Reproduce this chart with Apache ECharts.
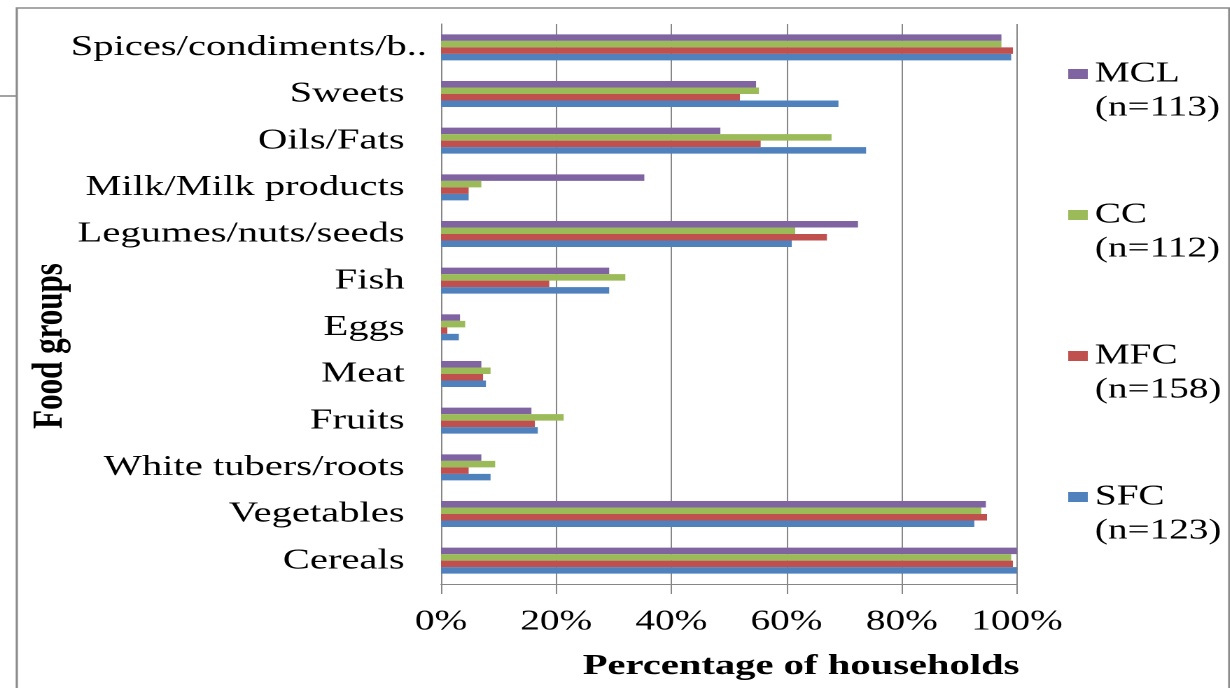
<!DOCTYPE html>
<html>
<head>
<meta charset="utf-8">
<title>Food groups consumed by households</title>
<script src="https://cdn.jsdelivr.net/npm/echarts@6/dist/echarts.min.js"></script>
<style>
  html, body { margin: 0; padding: 0; background: #fff; overflow: hidden; }
  /* The chart is laid out on a narrower canvas and widened horizontally,
     giving the broad serif lettering of the figure. */
  #chart { width: 879px; height: 688px; transform: scaleX(1.4); transform-origin: 0 0; }
</style>
</head>
<body>
<div id="chart"></div>
<script>
// Food groups, listed top to bottom
const categories = [
  'Spices/condiments/b..', 'Sweets', 'Oils/Fats', 'Milk/Milk products',
  'Legumes/nuts/seeds', 'Fish', 'Eggs', 'Meat', 'Fruits',
  'White tubers/roots', 'Vegetables', 'Cereals'
];

// Percentage of households consuming each food group
const mcl = [97.3, 54.7, 48.5, 35.3, 72.4, 29.2, 3.3, 7.0, 15.7, 7.0, 94.6, 100];
const cc  = [97.3, 55.2, 67.8, 7.0, 61.5, 32.0, 4.2, 8.6, 21.3, 9.4, 93.8, 99.0];
const mfc = [99.3, 51.9, 55.5, 4.8, 67.0, 18.8, 1.1, 7.3, 16.3, 4.8, 94.8, 99.3];
const sfc = [99.0, 69.0, 73.8, 4.8, 60.9, 29.2, 3.1, 7.8, 16.8, 8.6, 92.6, 100];

const seriesNames = ['MCL (n=113)', 'CC (n=112)', 'MFC (n=158)', 'SFC (n=123)'];
const seriesColors = ['#8064A2', '#9BBB59', '#C0504D', '#4F81BD'];
const tickValues = [0, 20, 40, 60, 80, 100];
const tickLabels = ['0%', '20%', '40%', '60%', '80%', '100%'];

const font = 'Liberation Serif, Times New Roman, serif';
const grey = '#868686';

const chart = echarts.init(document.getElementById('chart'), null, { devicePixelRatio: 2 });

const values = [mcl, cc, mfc, sfc];

chart.setOption({
  animation: false,
  backgroundColor: '#fff',
  grid: { left: 315, right: 152.6, top: 24, bottom: 104, containLabel: false },
  legend: {
    orient: 'vertical',
    left: 758,
    top: 18,
    itemWidth: 14,
    itemHeight: 10,
    itemGap: 39,
    icon: 'rect',
    data: seriesNames,
    // group name beside the swatch, sample size on the line below
    formatter: function (name) {
      const parts = name.split(' ');
      return '\n' + parts[0] + '\n' + parts[1];
    },
    textStyle: {
      fontFamily: font, fontSize: 28, color: '#000', lineHeight: 34
    }
  },
  xAxis: {
    type: 'value',
    min: 0,
    max: 100,
    interval: 10,
    axisLine: { show: true, lineStyle: { color: grey, width: 1 } },
    axisTick: {
      show: true, length: 10, customValues: tickValues,
      lineStyle: { color: grey, width: 1 }
    },
    splitLine: { show: true, lineStyle: { color: grey, width: 1 } },
    axisLabel: {
      customValues: tickValues,
      formatter: function (v) { return tickLabels[tickValues.indexOf(v)]; },
      fontFamily: font, fontSize: 28, color: '#000', margin: 24
    },
    name: 'Percentage of households',
    nameLocation: 'middle',
    nameGap: 68,
    nameTextStyle: {
      fontFamily: font, fontSize: 29, fontWeight: 'bold', color: '#000',
      padding: [0, 0, 0, 103]
    }
  },
  yAxis: {
    type: 'category',
    inverse: true,
    data: categories,
    axisLine: { show: true, lineStyle: { color: grey, width: 1 } },
    axisTick: { show: false },
    axisLabel: {
      margin: 10,
      formatter: function (v, i) {
        return i === 0 ? '{s|' + v + '}' : '{n|' + v + '}';
      },
      rich: {
        s: { fontFamily: font, fontSize: 29, color: '#000' },
        n: { fontFamily: font, fontSize: 29, color: '#000', padding: [0, 16, 0, 0] }
      }
    }
  },
  series: seriesNames.map(function (name, k) {
    return {
      name: name,
      type: 'bar',
      data: values[k],
      barWidth: 6.5,
      barGap: '0%',
      itemStyle: { color: seriesColors[k] }
    };
  }),
  graphic: [
    {
      type: 'rect',
      shape: { x: 12, y: 8, width: 866, height: 700 },
      style: { fill: null, stroke: '#8c8c8c', lineWidth: 1.6 },
      silent: true
    },
    {
      type: 'line',
      shape: { x1: 0, y1: 96, x2: 12, y2: 96 },
      style: { stroke: '#8c8c8c', lineWidth: 1.6 },
      silent: true
    },
    {
      type: 'text',
      x: 36,
      y: 346,
      rotation: Math.PI / 2,
      style: {
        text: 'Food groups',
        fontFamily: font, fontSize: 31, fontWeight: 'bold', fill: '#000',
        align: 'center', verticalAlign: 'middle'
      },
      silent: true
    }
  ]
});
</script>
</body>
</html>
